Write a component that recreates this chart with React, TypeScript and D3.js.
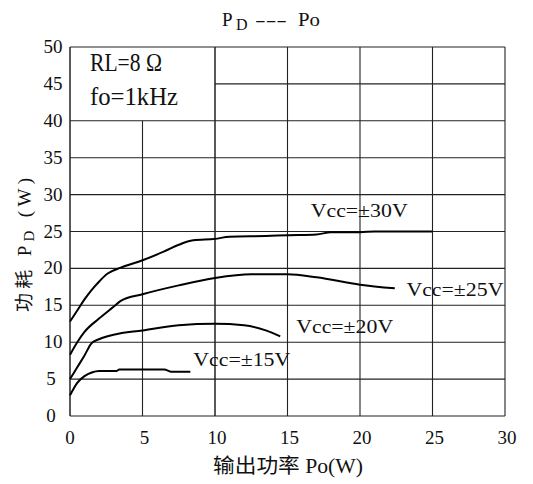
import { useEffect, useRef } from 'react';
import * as d3 from 'd3';

// curve points: [Po (W), PD (W)]
const vcc30 = [[0, 12.8], [0.5, 14.3], [1, 15.8], [1.5, 17.1], [2, 18.2], [2.6, 19.3], [3.5, 20.1], [5, 21.1], [6.5, 22.3], [7.5, 23.2], [8.5, 23.8], [10, 24.0], [11, 24.3], [13.5, 24.4], [15, 24.5], [17, 24.6], [18, 24.9], [20, 24.9], [21, 25.0], [25, 25.0]];
const vcc25 = [[0, 8.3], [0.5, 10.0], [1, 11.4], [2, 13.2], [3, 14.8], [3.5, 15.6], [5, 16.5], [7.5, 17.7], [10, 18.7], [12.5, 19.2], [15, 19.2], [17, 18.8], [20, 17.8], [22.4, 17.3]];
const vcc20 = [[0, 5.0], [0.5, 6.6], [1, 8.2], [1.5, 9.9], [2, 10.4], [3, 11.0], [5, 11.6], [7.5, 12.3], [10, 12.5], [12, 12.3], [13.5, 11.6], [14.5, 10.8]];
const vcc15 = [[0, 2.8], [0.5, 4.5], [1, 5.4], [1.5, 5.9], [2, 6.1], [3.2, 6.1], [3.4, 6.3], [6.5, 6.3], [7, 6.0], [8.3, 6.0]];

const seriesNames = ['Vcc=±30V', 'Vcc=±25V', 'Vcc=±20V', 'Vcc=±15V'];
const seriesData = [vcc30, vcc25, vcc20, vcc15];
// label anchor in data units (x, y of baseline start)
const labelPos = [[16.6, 26.9], [23.2, 16.2], [15.6, 11.3], [8.5, 6.8]];

const xTicks = [0, 5, 10, 15, 20, 25, 30];
const yTicks = [0, 5, 10, 15, 20, 25, 30, 35, 40, 45, 50];

const serif = '"Liberation Serif", "Noto Sans CJK SC", serif';

const App = () => {
  const ref = useRef<SVGSVGElement>(null);

  useEffect(() => {
    const svg = d3.select(ref.current);
    svg.selectAll('*').remove();

    const x = d3.scaleLinear().domain([0, 30]).range([70, 505]);
    const y = d3.scaleLinear().domain([0, 50]).range([416, 47]);

    const g = svg.append('g');

    // grid: horizontal lines
    yTicks.forEach(v => {
      const x0 = v === 45 ? 10 : 0;
      g.append('line')
        .attr('x1', x(x0)).attr('x2', x(30))
        .attr('y1', y(v)).attr('y2', y(v))
        .attr('stroke', '#222').attr('stroke-width', 1.1);
    });
    // grid: vertical lines
    xTicks.forEach(v => {
      const top = v === 5 ? 40 : 50;
      g.append('line')
        .attr('x1', x(v)).attr('x2', x(v))
        .attr('y1', y(0)).attr('y2', y(top))
        .attr('stroke', '#222').attr('stroke-width', v === 0 || v === 10 ? 1.5 : 1.1);
    });

    // tick labels
    g.selectAll('.ytick').data(yTicks).enter().append('text')
      .attr('x', d => d < 10 ? 51 : 53)
      .attr('y', d => y(d) + 6)
      .attr('text-anchor', 'middle')
      .attr('font-family', serif).attr('font-size', 19).attr('fill', '#111')
      .text(d => d);

    g.selectAll('.xtick').data(xTicks).enter().append('text')
      .attr('x', d => x(d) + (d === 0 ? 0 : 2))
      .attr('y', 444)
      .attr('text-anchor', 'middle')
      .attr('font-family', serif).attr('font-size', 19).attr('fill', '#111')
      .text(d => d);

    // curves
    const line = d3.line<number[]>().x(d => x(d[0])).y(d => y(d[1])).curve(d3.curveMonotoneX);
    seriesData.forEach(s => {
      g.append('path').attr('d', line(s))
        .attr('fill', 'none').attr('stroke', '#000').attr('stroke-width', 2);
    });

    seriesNames.forEach((name, i) => {
      g.append('text')
        .attr('x', x(labelPos[i][0])).attr('y', y(labelPos[i][1]))
        .attr('font-family', serif).attr('font-size', 19).attr('fill', '#111')
        .attr('textLength', 97).attr('lengthAdjust', 'spacingAndGlyphs')
        .text(name);
    });

    // annotation box text
    g.append('text').attr('x', 90).attr('y', 71)
      .attr('font-family', serif).attr('font-size', 25).attr('fill', '#111')
      .attr('textLength', 72).attr('lengthAdjust', 'spacingAndGlyphs')
      .text('RL=8 Ω');
    g.append('text').attr('x', 90).attr('y', 105)
      .attr('font-family', serif).attr('font-size', 25).attr('fill', '#111')
      .attr('textLength', 88).attr('lengthAdjust', 'spacingAndGlyphs')
      .text('fo=1kHz');

    // title
    const tAttrs = (s: d3.Selection<SVGTextElement, unknown, null, undefined>) =>
      s.attr('font-family', serif).attr('font-size', 19).attr('fill', '#111');
    tAttrs(g.append('text').attr('x', 222).attr('y', 26)).text('P');
    tAttrs(g.append('text').attr('x', 236).attr('y', 30)).attr('font-size', 16).text('D');
    tAttrs(g.append('text').attr('x', 255).attr('y', 26))
      .attr('textLength', 32).attr('lengthAdjust', 'spacingAndGlyphs').text('---');
    tAttrs(g.append('text').attr('x', 298).attr('y', 26))
      .attr('textLength', 22).attr('lengthAdjust', 'spacingAndGlyphs').text('Po');

    // axis titles
    g.append('text').attr('x', 213).attr('y', 473)
      .attr('font-family', serif).attr('font-size', 20).attr('fill', '#111')
      .attr('textLength', 150).attr('lengthAdjust', 'spacingAndGlyphs')
      .text('输出功率 Po(W)');

    const yl = g.append('text')
      .attr('transform', 'translate(31,312) rotate(-90)')
      .attr('font-family', serif).attr('font-size', 19).attr('fill', '#111')
      .attr('textLength', 134).attr('lengthAdjust', 'spacing');
    yl.append('tspan').text('功耗 P');
    yl.append('tspan').attr('font-size', 15).attr('dy', 3).text('D');
    yl.append('tspan').attr('dy', -3).text(' (W)');
  }, []);

  return (
    <div>
      <svg ref={ref} width={533} height={484}
        style={{ position: 'absolute', left: 0, top: 0, background: '#fff' }} />
    </div>
  );
};

export default App;
